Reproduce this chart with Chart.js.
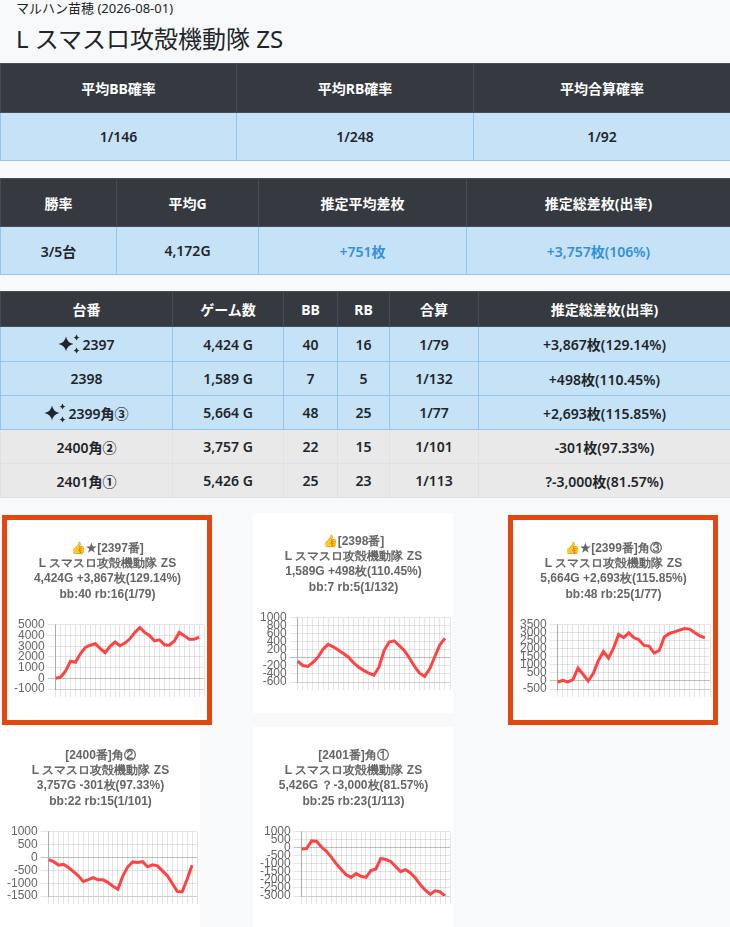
<!DOCTYPE html>
<html><head><meta charset="utf-8">
<script src="https://cdn.jsdelivr.net/npm/chart.js@4.4.0/dist/chart.umd.min.js"></script>
<style>
html,body{margin:0;padding:0;}
body{width:730px;height:927px;background:#f8f9fa;position:relative;overflow:hidden;font-family:"Noto Sans","Noto Sans CJK JP",sans-serif;color:#212529;}
.sub{position:absolute;left:16px;top:0;font-size:13px;line-height:17px;white-space:nowrap;}
.ttl{position:absolute;left:16px;top:23px;font-size:24px;line-height:32px;white-space:nowrap;}
table{position:absolute;left:0;width:730px;border-collapse:collapse;table-layout:fixed;}
th,td{text-align:center;padding:0;font-size:14px;white-space:nowrap;}
th{background:#343a40;color:#fff;border:1px solid #454d55;font-weight:700;}
td{font-weight:600;}
td.b{background:#c6e2f6;border:1px solid #92c6ef;}
td.g{background:#e9e9e9;border:1px solid #dee2e6;}
.blue{color:#3490dc;}
.card{position:absolute;background:#fff;width:200px;height:200px;}
.hl{border:5px solid #e2470f;}
.card canvas{display:block;}
svg.sp{vertical-align:-4px;margin-right:2px;}
</style>
</head>
<body>
<div class="sub">マルハン苗穂 (2026-08-01)</div>
<div class="ttl">L スマスロ攻殻機動隊 ZS</div>

<table style="top:63px">
<colgroup><col style="width:236px"><col style="width:237px"><col style="width:257px"></colgroup>
<tr style="height:49px"><th>平均BB確率</th><th>平均RB確率</th><th>平均合算確率</th></tr>
<tr style="height:48px"><td class="b">1/146</td><td class="b">1/248</td><td class="b">1/92</td></tr>
</table>

<table style="top:178px">
<colgroup><col style="width:116px"><col style="width:142px"><col style="width:208px"><col style="width:264px"></colgroup>
<tr style="height:48px"><th>勝率</th><th>平均G</th><th>推定平均差枚</th><th>推定総差枚(出率)</th></tr>
<tr style="height:48px"><td class="b">3/5台</td><td class="b">4,172G</td><td class="b blue">+751枚</td><td class="b blue">+3,757枚(106%)</td></tr>
</table>

<table style="top:291px">
<colgroup><col style="width:172px"><col style="width:111px"><col style="width:54px"><col style="width:52px"><col style="width:89px"><col style="width:252px"></colgroup>
<tr style="height:35px"><th>台番</th><th>ゲーム数</th><th>BB</th><th>RB</th><th>合算</th><th>推定総差枚(出率)</th></tr>
<tr style="height:35px"><td class="b"><svg class="sp" width="22" height="20" viewBox="0 0 22 20"><path d="M8 2.5 Q9.2 8.8 15.5 10 Q9.2 11.2 8 17.5 Q6.8 11.2 0.5 10 Q6.8 8.8 8 2.5Z M18.5 0.5 Q19 3 21.5 3.5 Q19 4 18.5 6.5 Q18 4 15.5 3.5 Q18 3 18.5 0.5Z M18.5 13.5 Q19 16 21.5 16.5 Q19 17 18.5 19.5 Q18 17 15.5 16.5 Q18 16 18.5 13.5Z" fill="#212529"/></svg>2397</td><td class="b">4,424 G</td><td class="b">40</td><td class="b">16</td><td class="b">1/79</td><td class="b">+3,867枚(129.14%)</td></tr>
<tr style="height:34px"><td class="b">2398</td><td class="b">1,589 G</td><td class="b">7</td><td class="b">5</td><td class="b">1/132</td><td class="b">+498枚(110.45%)</td></tr>
<tr style="height:34px"><td class="b"><svg class="sp" width="22" height="20" viewBox="0 0 22 20"><path d="M8 2.5 Q9.2 8.8 15.5 10 Q9.2 11.2 8 17.5 Q6.8 11.2 0.5 10 Q6.8 8.8 8 2.5Z M18.5 0.5 Q19 3 21.5 3.5 Q19 4 18.5 6.5 Q18 4 15.5 3.5 Q18 3 18.5 0.5Z M18.5 13.5 Q19 16 21.5 16.5 Q19 17 18.5 19.5 Q18 17 15.5 16.5 Q18 16 18.5 13.5Z" fill="#212529"/></svg>2399角③</td><td class="b">5,664 G</td><td class="b">48</td><td class="b">25</td><td class="b">1/77</td><td class="b">+2,693枚(115.85%)</td></tr>
<tr style="height:34px"><td class="g">2400角②</td><td class="g">3,757 G</td><td class="g">22</td><td class="g">15</td><td class="g">1/101</td><td class="g">-301枚(97.33%)</td></tr>
<tr style="height:34px"><td class="g">2401角①</td><td class="g">5,426 G</td><td class="g">25</td><td class="g">23</td><td class="g">1/113</td><td class="g">?-3,000枚(81.57%)</td></tr>
</table>

<div class="card hl" style="left:2px;top:515px"><canvas id="c2397" width="200" height="200"></canvas></div>
<div class="card" style="left:253px;top:513px"><canvas id="c2398" width="200" height="200"></canvas></div>
<div class="card hl" style="left:508px;top:515px"><canvas id="c2399" width="200" height="200"></canvas></div>
<div class="card" style="left:0px;top:727px"><canvas id="c2400" width="200" height="200"></canvas></div>
<div class="card" style="left:253px;top:727px"><canvas id="c2401" width="200" height="200"></canvas></div>

<script>
// Series values (estimated differential coins over the day)
const values2397 = [0, 100, 700, 1600, 1500, 2300, 2900, 3100, 3250, 2800, 2400, 3000, 3400, 3050, 3300, 3700, 4300, 4750, 4300, 4000, 3500, 3600, 3150, 3100, 3500, 4300, 4000, 3650, 3650, 3867];
const values2398 = [-80, -190, -210, -110, 20, 220, 340, 280, 200, 110, 20, -120, -230, -310, -380, -430, -230, 180, 400, 430, 310, 190, 0, -210, -380, -460, -270, 30, 330, 490];
const values2399 = [-60, 40, -60, 80, 800, 420, 0, 470, 1270, 1840, 1420, 2050, 2900, 2710, 3010, 2710, 2580, 2220, 2180, 1740, 1910, 2750, 2970, 3070, 3180, 3280, 3240, 3010, 2820, 2693];
const values2400 = [-80, -160, -300, -260, -390, -550, -710, -935, -860, -780, -870, -870, -975, -1120, -1235, -710, -360, -170, -195, -160, -360, -285, -325, -520, -710, -1010, -1320, -1340, -845, -301];
const values2401 = [-60, -40, 440, 420, 60, -210, -570, -990, -1350, -1670, -1840, -1600, -1770, -1840, -1410, -1310, -650, -720, -840, -1160, -1480, -1350, -1560, -1880, -2300, -2640, -2890, -2680, -2740, -3000];

// Y tick labels
const ticks2397 = [5000, 4000, 3000, 2000, 1000, 0, -1000];
const ticks2398 = [1000, 800, 600, 400, 200, 0, -200, -400, -600];
const ticks2399 = [3500, 3000, 2500, 2000, 1500, 1000, 500, 0, -500];
const ticks2400 = [1000, 500, 0, -500, -1000, -1500];
const ticks2401 = [1000, 500, 0, -500, -1000, -1500, -2000, -2500, -3000];

// Chart titles
const title2397 = ['👍★[2397番]', 'L スマスロ攻殻機動隊 ZS', '4,424G +3,867枚(129.14%)', 'bb:40 rb:16(1/79)'];
const title2398 = ['👍[2398番]', 'L スマスロ攻殻機動隊 ZS', '1,589G +498枚(110.45%)', 'bb:7 rb:5(1/132)'];
const title2399 = ['👍★[2399番]角③', 'L スマスロ攻殻機動隊 ZS', '5,664G +2,693枚(115.85%)', 'bb:48 rb:25(1/77)'];
const title2400 = ['[2400番]角②', 'L スマスロ攻殻機動隊 ZS', '3,757G -301枚(97.33%)', 'bb:22 rb:15(1/101)'];
const title2401 = ['[2401番]角①', 'L スマスロ攻殻機動隊 ZS', '5,426G ？-3,000枚(81.57%)', 'bb:25 rb:23(1/113)'];

// Categories (sample index), one more slot than samples
const categories = ['1','2','3','4','5','6','7','8','9','10','11','12','13','14','15','16','17','18','19','20','21','22','23','24','25','26','27','28','29','30','31'];

function makeChart(id, values, ticks, title) {
  const sorted = ticks.slice().sort((a, b) => a - b);
  new Chart(document.getElementById(id), {
    type: 'line',
    data: {
      labels: categories,
      datasets: [{ data: values, borderColor: 'rgb(255,66,66)', borderWidth: 3, pointRadius: 0, fill: false, tension: 0 }]
    },
    options: {
      responsive: false, animation: false, events: [],
      layout: { padding: { left: 4, right: 3, top: 0, bottom: 23 } },
      plugins: {
        legend: { display: false },
        tooltip: { enabled: false },
        title: { display: true, text: title, color: '#666', font: { size: 12, weight: 'bold', lineHeight: 1.27 }, padding: { top: 21, bottom: 23 } }
      },
      scales: {
        x: {
          ticks: { display: false },
          grid: { color: 'rgba(0,0,0,0.1)', tickLength: 8 },
          border: { color: 'rgba(0,0,0,0.1)' }
        },
        y: {
          min: sorted[0], max: sorted[sorted.length - 1],
          afterBuildTicks: (s) => { s.ticks = sorted.map(v => ({ value: v })); },
          ticks: { autoSkip: false, color: '#666', font: { size: 12 }, padding: 3, callback: (v) => String(v) },
          grid: { color: (c) => (c.tick && c.tick.value === 0) ? 'rgba(0,0,0,0.25)' : 'rgba(0,0,0,0.1)', tickLength: 8 },
          border: { color: 'rgba(0,0,0,0.25)' }
        }
      }
    }
  });
}

makeChart('c2397', values2397, ticks2397, title2397);
makeChart('c2398', values2398, ticks2398, title2398);
makeChart('c2399', values2399, ticks2399, title2399);
makeChart('c2400', values2400, ticks2400, title2400);
makeChart('c2401', values2401, ticks2401, title2401);
</script>
</body></html>
